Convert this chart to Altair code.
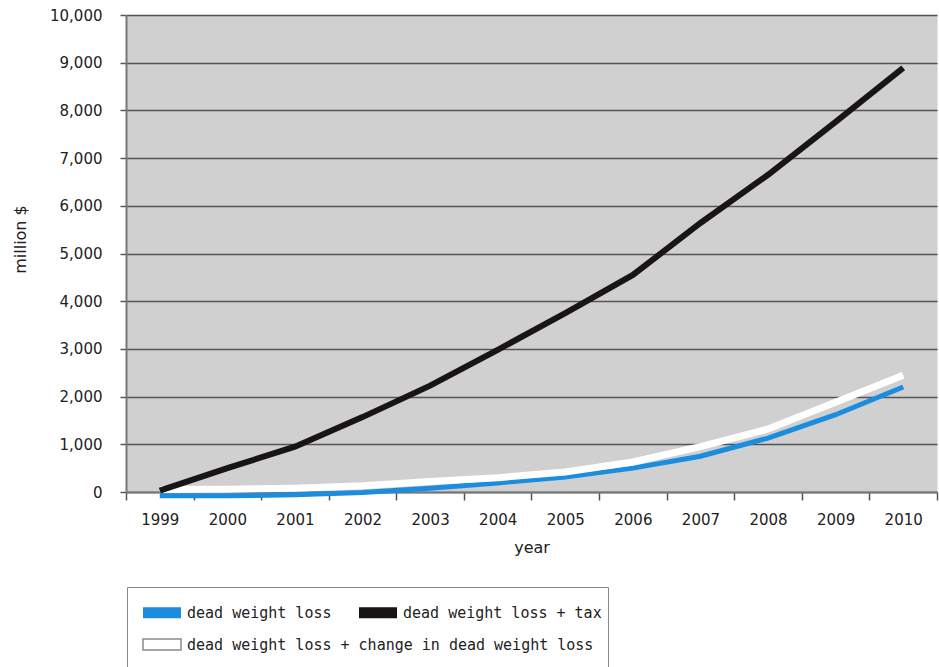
import altair as alt
import pandas as pd

# Annual values in million $
years = ["1999", "2000", "2001", "2002", "2003", "2004",
         "2005", "2006", "2007", "2008", "2009", "2010"]
dead_weight_loss = [-80, -80, -60, -10, 80, 190, 315, 500, 750, 1130, 1620, 2200]
dwl_plus_tax = [30, 500, 950, 1570, 2230, 2980, 3750, 4550, 5640, 6650, 7760, 8890]
dwl_plus_change = [50, 60, 80, 130, 220, 300, 420, 630, 950, 1320, 1880, 2450]

series_names = [
    "dead weight loss",
    "dead weight loss + tax",
    "dead weight loss + change in dead weight loss",
]
series_colors = ["#1a8ddf", "#1a1515", "#ffffff"]
series_widths = [5, 6, 7]

rows = []
for name, vals in zip(series_names, [dead_weight_loss, dwl_plus_tax, dwl_plus_change]):
    for y, v in zip(years, vals):
        rows.append({"year": y, "value": v, "series": name})
df = pd.DataFrame(rows)

FONT = "DejaVu Sans"
LEGEND_FONT = "DejaVu Sans Mono"

x_enc = alt.X(
    "year:N",
    sort=years,
    bandPosition=0.5,
    scale=alt.Scale(type="band", paddingInner=0, paddingOuter=0),
    axis=alt.Axis(
        title="year",
        labelAngle=0,
        tickBand="extent",
        tickSize=8,
        tickColor="#555555",
        tickWidth=1.5,
        domainColor="#777777",
        domainWidth=2,
        labelFont=FONT,
        labelFontSize=15,
        labelColor="#222222",
        labelPadding=12,
        titleFont=FONT,
        titleFontSize=16,
        titleFontWeight="normal",
        titleColor="#222222",
        titlePadding=12,
        grid=False,
    ),
)

y_enc = alt.Y(
    "value:Q",
    scale=alt.Scale(domain=[0, 10000], nice=False),
    axis=alt.Axis(
        title="million $",
        values=list(range(0, 10001, 1000)),
        format=",d",
        tickSize=6,
        tickColor="#555555",
        tickWidth=1.5,
        domainColor="#777777",
        domainWidth=2,
        grid=True,
        gridColor="#555555",
        gridWidth=1.5,
        labelFont=FONT,
        labelFontSize=15,
        labelColor="#222222",
        labelPadding=18,
        titleFont=FONT,
        titleFontSize=16,
        titleFontWeight="normal",
        titleColor="#222222",
        titleAngle=-90,
        titleAlign="center",
        titleBaseline="middle",
        titleX=-106,
        titleY=224,
    ),
)

# Lines: stroke colour per series, no legend of their own
color_enc = alt.Color(
    "series:N",
    scale=alt.Scale(domain=series_names, range=series_colors),
    legend=None,
)

# Wide flat swatch: drawn 38px wide from the entry's left edge, 11px tall
SWATCH = "M-1,-1L5.909,-1L5.909,1L-1,1Z"

legend_common = dict(
    title=None,
    orient="none",
    legendX=1,
    direction="horizontal",
    symbolType=SWATCH,
    symbolSize=121,
    symbolOpacity=1,
    labelFont=LEGEND_FONT,
    labelFontSize=15,
    labelColor="#222222",
    labelLimit=600,
    labelOffset=31,
    columnPadding=25,
    padding=14,
)

# First legend row: blue and black series
fill_top = alt.Fill(
    "series:N",
    scale=alt.Scale(domain=series_names[:2], range=series_colors[:2]),
    legend=alt.Legend(
        legendY=576,
        symbolStrokeWidth=0,
        **legend_common,
    ),
)

# Second legend row inside the framed box: white series with grey outline
legend_common_b = dict(legend_common)
legend_common_b["title"] = " "
fill_bottom = alt.Fill(
    "series:N",
    scale=alt.Scale(domain=series_names[2:], range=series_colors[2:]),
    legend=alt.Legend(
        legendY=572,
        titleFontSize=24,
        titlePadding=12,
        symbolStrokeColor="#8a8a8a",
        symbolStrokeWidth=1.5,
        strokeColor="#888888",
        **legend_common_b,
    ),
)

layers = []
for name, width in zip(series_names, series_widths):
    layers.append(
        alt.Chart(df)
        .transform_filter(alt.datum.series == name)
        .mark_line(strokeWidth=width, strokeJoin="miter", strokeCap="butt")
        .encode(x=x_enc, y=y_enc, color=color_enc)
    )

legend_layer_top = (
    alt.Chart(df)
    .transform_filter(alt.datum.year == "none")
    .mark_bar()
    .encode(x=x_enc, y=y_enc, fill=fill_top)
)
legend_layer_bottom = (
    alt.Chart(df)
    .transform_filter(alt.datum.year == "none")
    .mark_bar()
    .encode(x=x_enc, y=y_enc, fill=fill_bottom)
)

chart = (
    alt.layer(legend_layer_bottom, legend_layer_top, layers[0], layers[2], layers[1])
    .resolve_scale(fill="independent")
    .resolve_legend(fill="independent")
    .properties(
        width=811,
        height=477,
        autosize=alt.AutoSizeParams(type="none"),
        padding={"left": 126, "top": 15, "right": 2, "bottom": 175},
        background="#ffffff",
    )
    .configure_view(fill="#d0d0d0", stroke="transparent")
)

chart.save("out.html", embed_options={"renderer": "svg", "actions": False})
